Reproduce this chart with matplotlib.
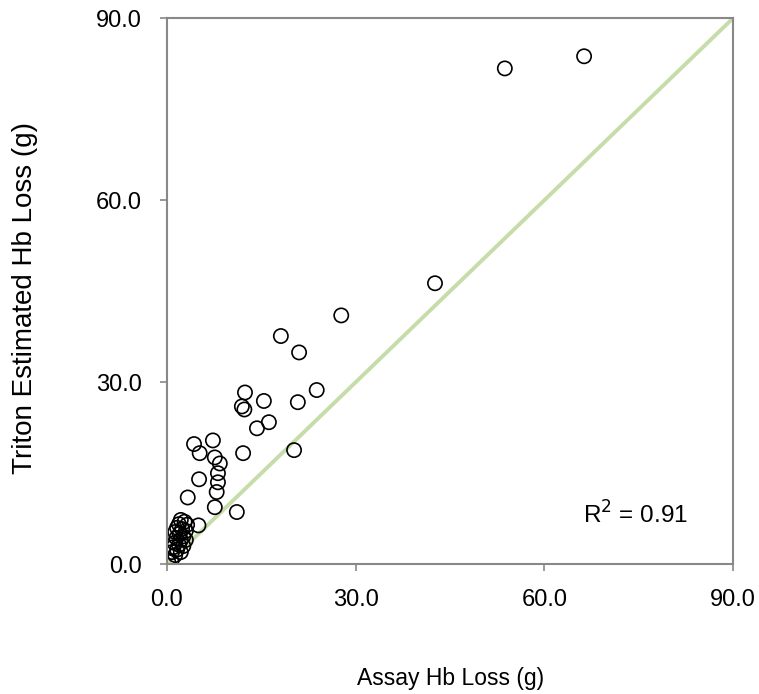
import matplotlib.pyplot as plt
import numpy as np

plt.rcParams['font.family'] = ['Liberation Sans', 'DejaVu Sans']

# Assay Hb loss (g) vs Triton estimated Hb loss (g)
assay = [66.3, 53.7, 42.6, 27.7, 18.1, 21.0, 23.8, 12.4, 15.4, 11.9, 12.3,
         20.8, 16.2, 14.3, 20.2, 12.1, 11.1,
         4.3, 7.3, 5.2, 7.6, 8.4, 8.1, 8.1, 5.1, 7.9, 3.3, 7.6, 5.0,
         2.2, 2.8, 1.9, 3.2, 1.6, 2.4, 3.0, 1.3, 2.0, 2.6, 1.5, 2.2, 3.0,
         1.2, 1.9, 2.6, 1.0, 1.6, 2.2, 0.8, 1.3, 0.2, 0.7]
triton = [83.7, 81.7, 46.3, 41.0, 37.6, 34.9, 28.7, 28.3, 26.9, 26.0, 25.5,
          26.7, 23.4, 22.4, 18.8, 18.3, 8.6,
          19.8, 20.4, 18.3, 17.6, 16.6, 15.0, 13.5, 14.0, 11.9, 11.0, 9.4, 6.4,
          7.3, 7.0, 6.6, 6.5, 6.0, 5.8, 5.5, 5.3, 5.0, 4.6, 4.3, 4.0, 4.0,
          3.5, 3.2, 3.0, 2.8, 2.4, 2.0, 2.0, 1.5, 0.4, 0.5]
r2_text = 'R$^2$ = 0.91'
ticks = [0, 30, 60, 90]

fig = plt.figure(figsize=(7.59, 6.94), dpi=100)
ax = fig.add_axes([0.220, 0.187, 0.746, 0.787])

ax.plot([0, 90], [0, 90], color='#c6dca9', lw=2.8, zorder=1)
ax.scatter(assay, triton, s=105, facecolors='none', edgecolors='black',
           linewidths=1.2, zorder=2)

ax.set_xlim(0, 90)
ax.set_ylim(0, 90)
ax.set_xticks(ticks)
ax.set_yticks(ticks)
ax.set_xticklabels(['%.1f' % t for t in ticks])
ax.set_yticklabels(['%.1f' % t for t in ticks])
ax.tick_params(direction='out', length=5, width=1.2, color='#888888',
               labelsize=17, pad=13)
for s in ax.spines.values():
    s.set_color('#888888')
    s.set_linewidth(1.5)

ax.text(0.735, 0.09, r2_text, transform=ax.transAxes, fontsize=17.5,
        va='center', ha='left')

fig.text(0.593, 0.023, 'Assay Hb Loss (g)', fontsize=16.5, ha='center',
         va='center')
fig.text(0.033, 0.57, 'Triton Estimated Hb Loss (g)', fontsize=20,
         ha='center', va='center', rotation=90)

fig.savefig('out.png', dpi=100)
